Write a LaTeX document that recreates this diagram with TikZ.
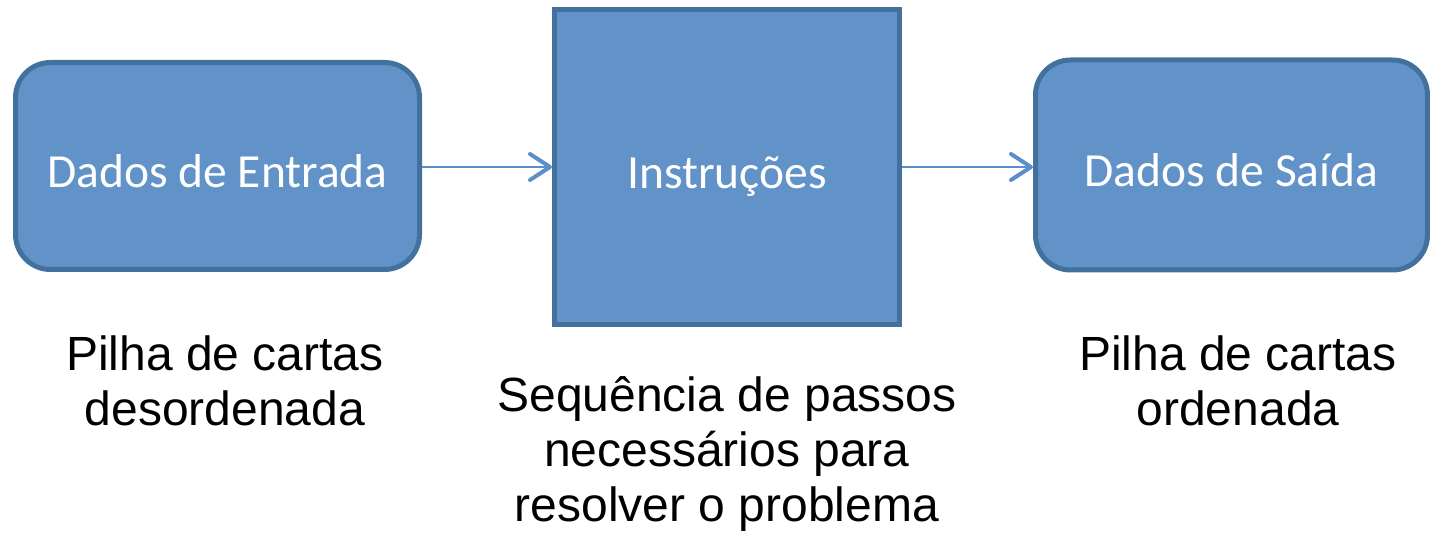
\documentclass[tikz,border=0pt]{standalone}
\usepackage{fontspec}
\setmainfont{Liberation Sans}
\newfontfamily\boxfont{Carlito}
\usetikzlibrary{arrows.meta}
\definecolor{boxfill}{HTML}{6193C8}
\definecolor{boxline}{HTML}{41719C}
\definecolor{arrowc}{HTML}{5B8FCB}
\begin{document}
\begin{tikzpicture}[x=1pt,y=-1pt,
  blockbox/.style={draw=boxline,fill=boxfill,line width=5pt,text=white,
    font=\boxfont\fontsize{47.5}{55}\selectfont,inner sep=0pt,text height=44pt,text depth=0pt},
  caption/.style={align=center,font=\fontsize{48}{55}\selectfont,text=black,inner sep=0pt},
  link/.style={draw=arrowc,line width=2pt,
    -{Straight Barb[length=20pt,width=26pt,line width=4pt,round]}}]
\useasboundingbox (0,0) rectangle (1430,537);
\node[blockbox,rounded corners=35pt,minimum width=404pt,minimum height=207pt] (in) at (217.5,166) {Dados de Entrada};
\node[blockbox,minimum width=345pt,minimum height=315pt] (mid) at (727,167) {Instruções};
\node[blockbox,rounded corners=35pt,minimum width=392pt,minimum height=210pt] (out) at (1231.5,165) {Dados de Saída};
\draw[link] (in.east |- 0,167) -- (mid.west |- 0,167);
\draw[link] (mid.east |- 0,167) -- (out.west |- 0,167);
\node[caption] (cin) at (225,381) {Pilha de cartas\\desordenada};
\node[caption] (cmid) at (727,454) {Sequência de passos\\necessários para\\resolver o problema};
\node[caption] (cout) at (1238,381) {Pilha de cartas\\ordenada};
\end{tikzpicture}
\end{document}
